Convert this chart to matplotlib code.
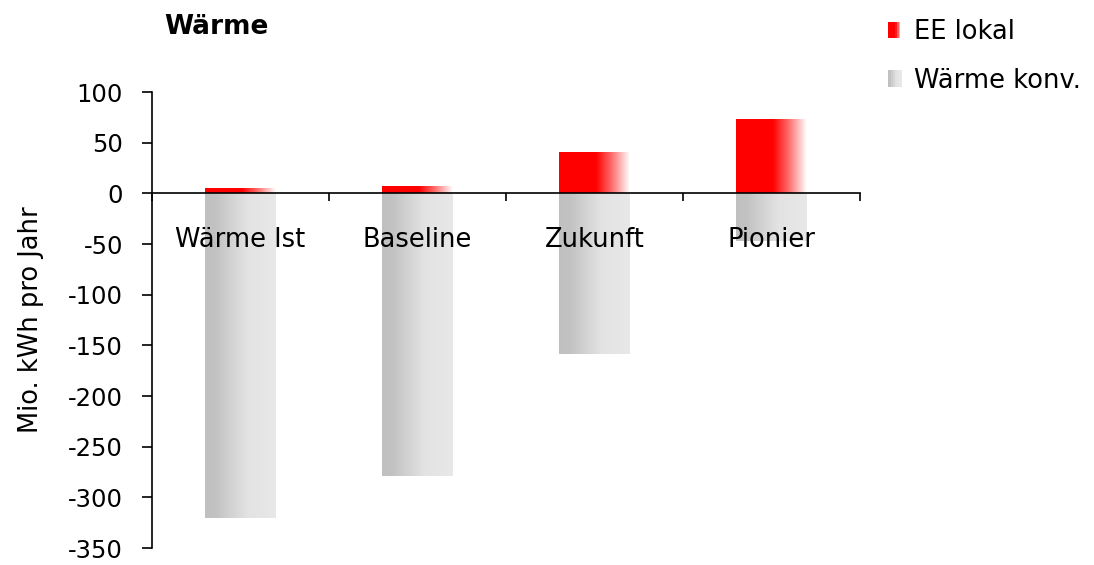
import numpy as np
import matplotlib
matplotlib.use("Agg")
import matplotlib.pyplot as plt
from matplotlib.colors import LinearSegmentedColormap
from matplotlib.patches import Rectangle
from matplotlib.legend_handler import HandlerBase

plt.rcParams['font.family'] = ['DejaVu Sans']

categories = ["Wärme Ist", "Baseline", "Zukunft", "Pionier"]
ee_lokal = [5, 7, 41, 73]
waerme_konv = [-320, -279, -158, -47]
yticks = [100, 50, 0, -50, -100, -150, -200, -250, -300, -350]

red_cmap = LinearSegmentedColormap.from_list(
    "redg", [(0, "#ff0000"), (0.52, "#ff0000"), (0.75, "#ff7070"), (1.0, "#ffffff")])
gray_cmap = LinearSegmentedColormap.from_list(
    "grayg", [(0, "#c0c0c0"), (0.15, "#c2c2c2"), (0.6, "#e3e3e3"), (1.0, "#e8e8e8")])

fig = plt.figure(figsize=(10.94, 5.65), dpi=100)
ax = fig.add_axes([0.139, 0.03, 0.647, 0.807])

x = np.arange(len(categories))
width = 0.4
grad = np.linspace(0, 1, 256).reshape(1, -1)


def gradient_bars(bars, cmap):
    for b in bars:
        b.set_facecolor("none")
        b.set_edgecolor("none")
        x0, y0 = b.get_x(), b.get_y()
        w, h = b.get_width(), b.get_height()
        ylo, yhi = min(y0, y0 + h), max(y0, y0 + h)
        im = ax.imshow(grad, cmap=cmap, aspect='auto',
                       extent=[x0, x0 + w, ylo, yhi], zorder=2,
                       interpolation='bilinear')
        im.set_clip_path(b)


b1 = ax.bar(x, ee_lokal, width=width, zorder=2)
gradient_bars(b1, red_cmap)
b2 = ax.bar(x, waerme_konv, width=width, zorder=2)
gradient_bars(b2, gray_cmap)

ax.set_xlim(-0.5, len(categories) - 0.5)
ax.set_ylim(-350, 100)
ax.set_yticks(yticks)
ax.set_yticklabels([str(v) for v in yticks], fontsize=17.5)
ax.tick_params(axis='y', length=7, width=1.2, direction='out', pad=14)

ax.spines['top'].set_visible(False)
ax.spines['right'].set_visible(False)
ax.spines['bottom'].set_position(('data', 0))
ax.spines['bottom'].set_zorder(3)
ax.spines['left'].set_linewidth(1.2)
ax.spines['bottom'].set_linewidth(1.2)

ax.set_xticks(np.arange(len(categories) + 1) - 0.5)
ax.set_xticklabels([])
ax.set_xticks(x, minor=True)
ax.set_xticklabels(categories, minor=True, fontsize=18.5)
ax.tick_params(axis='x', which='major', length=6, width=1.2, direction='out')
ax.tick_params(axis='x', which='minor', length=0, pad=24)
ax.xaxis.set_zorder(5)

ax.set_ylabel("Mio. kWh pro Jahr", fontsize=18.5)
ax.yaxis.set_label_coords(-0.152, 0.5)

fig.text(0.198, 0.952, "Wärme", fontsize=19, fontweight='bold', ha='center', va='center')


class GradHandler(HandlerBase):
    def __init__(self, colors):
        super().__init__()
        self.colors = colors

    def create_artists(self, legend, orig_handle, xdescent, ydescent,
                       width, height, fontsize, trans):
        n = len(self.colors)
        arts = []
        for i, c in enumerate(self.colors):
            r = Rectangle((-xdescent + i * width / n, -ydescent), width / n, height,
                          facecolor=c, edgecolor='none', transform=trans)
            arts.append(r)
        return arts


h1 = Rectangle((0, 0), 1, 1)
h2 = Rectangle((0, 0), 1, 1)
red_cols = [red_cmap(v) for v in np.linspace(0, 1, 8)]
gray_cols = [gray_cmap(v) for v in np.linspace(0, 1, 8)]
leg = fig.legend([h1, h2], ["EE lokal", "Wärme konv."],
                 handler_map={h1: GradHandler(red_cols), h2: GradHandler(gray_cols)},
                 loc='upper left', bbox_to_anchor=(0.794, 1.0), frameon=False,
                 fontsize=18.5, handlelength=0.55, handleheight=0.6,
                 handletextpad=0.45, labelspacing=0.87, borderpad=0.25)

fig.savefig("out.png", dpi=100)
